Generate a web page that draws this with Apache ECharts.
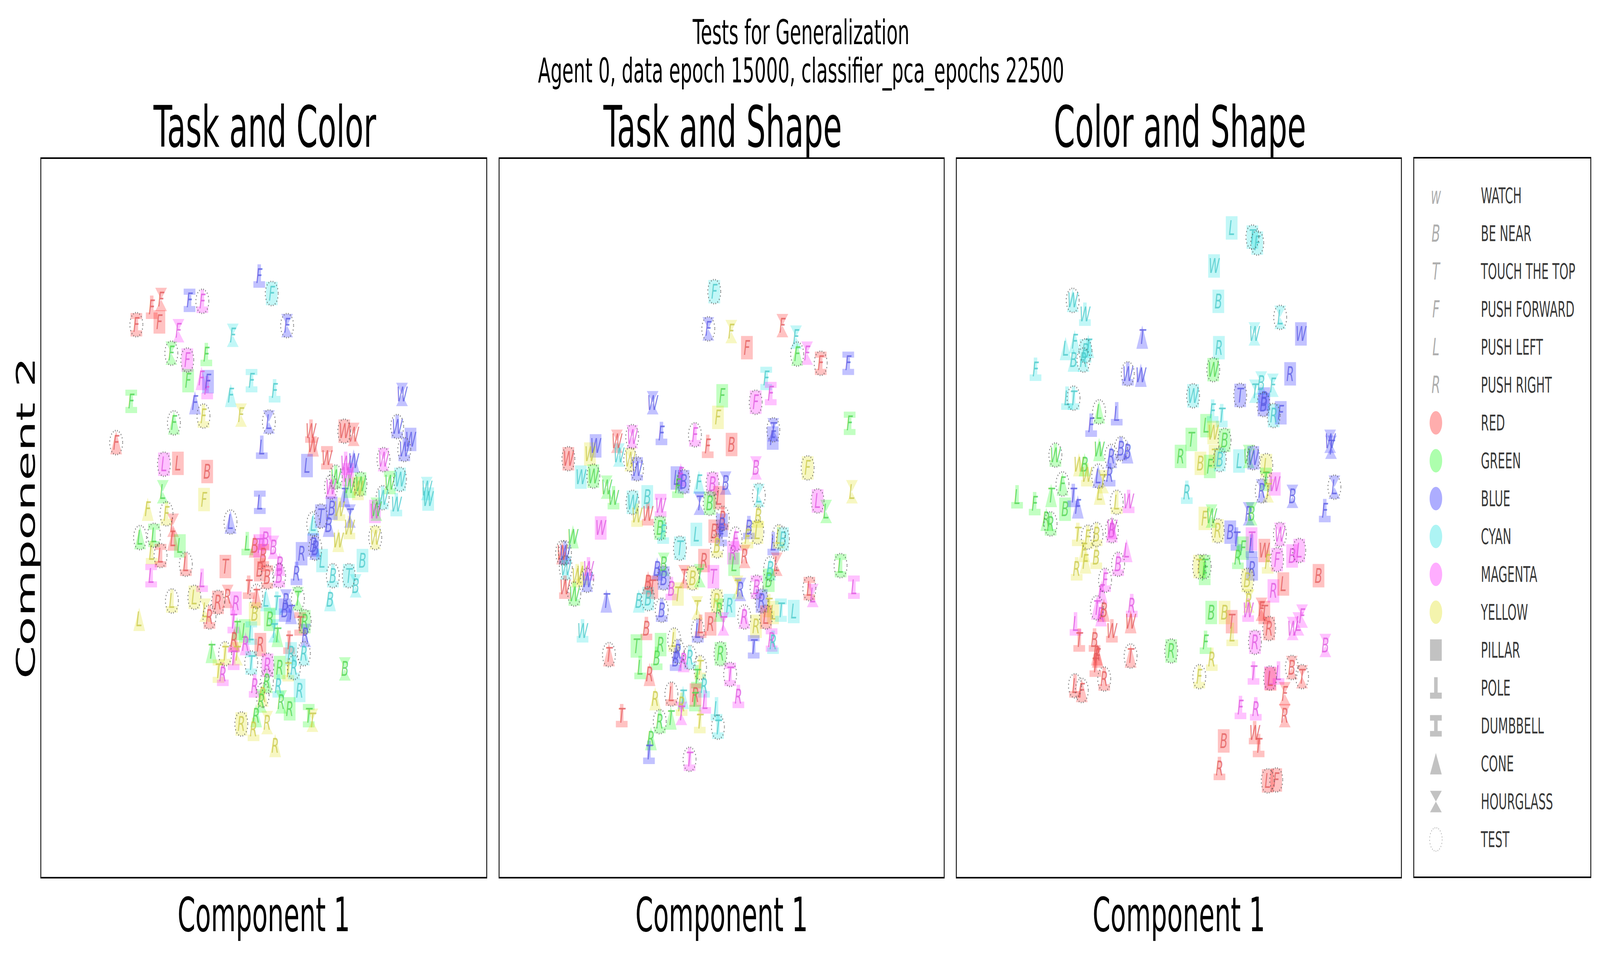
<!DOCTYPE html>
<html>
<head>
<meta charset="utf-8">
<script src="https://cdn.jsdelivr.net/npm/echarts@6/dist/echarts.min.js"></script>
<style>
html,body{margin:0;padding:0;background:#fff;overflow:hidden}
#wrap{transform-origin:0 0}
#main{width:7646px;height:2446px}
</style>
</head>
<body>
<div id="wrap"><div id="main"></div></div>
<script>
// point = [x, y, task, colour, shape, test]; x,y (arbitrary PCA units)
// colour: r g b c m y ; shape: P pillar, O pole, D dumbbell, C cone, H hourglass
var taskColorPts = [
[76.8,25.7,'F','b','O',0],[81.2,29.5,'F','c','P',1],[42.3,30.8,'F','r','H',0],[39.0,32.5,'F','r','O',0],
[41.7,35.7,'F','r','P',0],[33.6,36.3,'F','r','D',1],[52.3,31.0,'F','b','D',0],[56.8,31.2,'F','m','O',1],
[48.4,37.6,'F','m','H',0],[67.5,38.6,'F','c','H',0],[86.6,36.5,'F','b','H',1],[45.9,42.5,'F','g','H',1],
[51.5,44.0,'F','m','P',1],[58.2,42.8,'F','g','O',0],[51.8,48.5,'F','g','P',0],[56.5,48.0,'F','m','C',0],
[58.5,50.0,'F','m','O',0],[58.8,48.7,'F','b','P',0],[74.1,48.5,'F','c','D',0],[82.2,50.7,'F','c','O',0],
[66.8,51.7,'F','c','C',0],[31.8,53.0,'F','g','D',0],[54.2,53.3,'F','b','C',0],[57.2,56.2,'F','y','O',1],
[70.4,56.0,'F','y','H',0],[80.2,57.5,'L','b','H',1],[46.8,57.7,'F','g','C',1],[26.5,62.0,'F','r','C',1],
[77.7,63.0,'L','b','O',0],[43.3,66.7,'L','m','P',1],[48.2,66.5,'L','r','P',0],[58.5,68.3,'B','r','P',0],
[42.9,72.7,'L','g','H',0],[57.4,74.4,'F','y','P',0],[77.0,75.0,'L','b','D',0],[37.6,76.5,'F','y','C',0],
[44.2,77.5,'F','y','O',1],[46.5,80.0,'L','r','H',0],[66.7,79.3,'L','b','C',1],[34.9,82.7,'L','g','C',1],
[39.8,82.2,'L','g','D',1],[46.5,83.0,'L','r','C',0],[48.9,84.5,'L','g','P',0],[39.0,86.0,'L','y','O',0],
[42.1,86.6,'L','r','D',1],[51.0,88.5,'L','r','O',1],[38.8,91.0,'L','m','D',0],[56.7,92.0,'L','m','O',0],
[46.1,96.5,'L','y','O',1],[54.0,95.7,'L','y','P',1],[57.8,98.5,'L','y','H',0],[62.3,96.8,'R','r','P',1],
[65.7,95.5,'R','r','H',0],[59.3,100.0,'R','r','O',1],[68.6,97.0,'R','m','P',0],[34.6,100.5,'L','y','C',0],
[64.9,89.0,'T','r','P',0],[72.6,84.0,'L','g','O',0],[75.2,84.5,'B','r','C',0],[76.8,84.5,'T','m','P',0],
[79.0,83.0,'B','m','P',0],[81.8,84.8,'B','m','H',0],[78.2,86.6,'B','r','D',0],[77.0,89.7,'B','r','P',0],
[84.0,88.5,'B','m','C',0],[83.8,91.0,'B','m','O',1],[79.6,91.3,'B','r','D',1],[73.1,93.5,'T','r','O',0],
[75.8,95.5,'T','r','C',1],[79.2,96.2,'L','c','C',0],[83.0,97.0,'T','c','O',0],[75.2,99.3,'B','y','P',0],
[86.2,96.5,'R','b','H',0],[85.8,98.5,'B','b','P',0],[88.0,99.0,'T','b','C',0],[90.4,96.0,'T','g','H',1],
[91.2,101.5,'T','r','D',0],[92.8,101.0,'R','g','P',1],[93.0,104.0,'R','b','H',0],[69.0,102.5,'T','g','C',0],
[71.7,103.0,'L','g','P',0],[74.0,103.5,'L','c','D',0],[80.5,100.5,'B','g','P',0],[82.0,103.0,'T','c','H',0],
[83.2,104.0,'T','g','C',0],[67.7,101.0,'T','m','O',0],[68.0,105.0,'R','r','C',0],[72.0,105.8,'R','m','C',0],
[77.2,106.0,'R','r','P',0],[64.8,108.0,'T','y','O',1],[60.0,107.5,'T','g','C',0],[69.0,108.0,'T','y','H',0],
[67.8,109.0,'T','m','D',0],[62.5,111.8,'T','y','D',0],[64.0,112.5,'R','m','O',0],[74.0,110.0,'T','c','D',1],
[79.7,110.5,'R','m','P',1],[87.3,105.5,'T','r','O',0],[88.0,108.0,'R','c','P',0],[92.5,108.0,'R','c','C',1],
[84.0,111.0,'R','g','P',0],[87.0,111.5,'T','y','O',0],[89.0,111.0,'R','c','O',1],[75.2,115.0,'R','m','O',0],
[79.5,114.0,'R','g','C',1],[83.5,115.0,'R','c','O',0],[91.0,116.0,'R','c','P',0],[78.0,117.0,'R','y','C',1],
[77.5,118.3,'R','g','H',0],[84.5,118.5,'R','g','H',0],[87.5,120.0,'R','g','P',0],[94.2,121.5,'T','g','D',0],
[95.5,122.5,'T','y','H',0],[75.7,121.5,'R','g','C',0],[70.5,123.3,'R','y','P',1],[74.8,124.5,'R','y','O',0],
[79.6,123.0,'R','y','H',0],[82.4,128.0,'R','y','C',0],[106.9,111.3,'B','g','H',0],[95.0,59.5,'W','r','O',0],
[95.7,62.5,'W','r','C',0],[106.7,59.5,'W','r','P',1],[110.0,60.2,'W','r','H',0],[100.6,65.3,'W','r','D',0],
[93.6,67.0,'L','b','P',0],[107.2,66.5,'W','m','O',0],[110.0,66.0,'W','b','C',0],[108.0,69.0,'W','m','P',0],
[103.7,69.5,'W','g','O',1],[102.0,71.7,'W','m','C',1],[112.4,71.0,'W','g','P',1],[111.5,72.0,'W','y','P',0],
[106.8,73.5,'T','b','C',0],[108.5,71.5,'W','g','O',0],[105.0,76.5,'W','y','O',0],[102.3,76.3,'B','b','P',0],
[98.5,78.0,'T','b','P',1],[108.7,78.0,'T','b','H',0],[101.2,80.0,'B','b','C',0],[108.5,80.5,'W','y','O',0],
[95.8,79.7,'L','c','C',1],[104.6,83.3,'W','y','C',0],[95.8,84.3,'B','b','P',0],[96.5,85.0,'B','b','C',1],
[91.7,86.2,'R','b','P',0],[89.9,90.5,'R','b','O',0],[98.9,87.7,'L','c','P',0],[102.7,91.0,'B','c','O',1],
[108.3,91.0,'T','c','P',1],[110.7,93.2,'B','c','H',0],[113.1,87.7,'B','c','P',0],[101.7,96.2,'B','c','C',0],
[127.0,51.5,'W','b','H',0],[125.3,58.5,'W','b','O',1],[130.0,61.3,'W','b','P',0],[127.8,63.5,'W','b','O',1],
[120.5,65.7,'W','m','H',1],[122.7,70.7,'W','g','D',0],[126.3,70.0,'W','c','P',1],[120.2,74.0,'W','c','O',1],
[125.0,75.5,'W','c','O',0],[117.5,77.0,'W','m','P',0],[118.0,76.5,'W','g','H',0],[117.6,82.7,'W','y','H',1],
[135.7,72.0,'W','c','H',0],[136.2,74.3,'W','c','P',0]
];

var taskShapePts = [
[75.8,29.1,'F','c','P',1],[73.7,37.2,'F','b','H',1],[81.8,37.8,'F','y','H',0],[87.3,41.3,'F','r','P',0],
[99.8,36.5,'F','r','H',0],[104.6,39.0,'F','c','H',0],[105.0,42.7,'F','g','C',1],[108.5,42.5,'F','m','H',0],
[113.3,44.7,'F','r','D',1],[123.0,44.7,'F','b','D',0],[94.1,48.0,'F','c','D',0],[95.7,51.3,'F','m','D',0],
[90.4,53.2,'F','m','P',1],[78.6,51.8,'F','g','P',0],[77.1,56.5,'F','y','P',0],[96.6,59.2,'T','b','H',1],
[96.4,61.0,'F','b','P',0],[123.5,57.8,'F','g','D',0],[54.1,53.3,'W','b','H',0],[57.2,60.0,'F','b','O',0],
[69.0,60.3,'F','m','O',1],[73.5,62.8,'F','r','O',0],[81.9,62.4,'B','r','P',0],[41.5,61.7,'W','r','H',0],
[46.9,60.7,'W','m','H',1],[34.0,62.7,'W','b','P',0],[32.0,64.5,'W','y','P',0],[42.2,64.7,'W','c','H',0],
[46.2,65.7,'W','y','H',1],[48.6,67.7,'W','b','D',1],[24.4,65.5,'W','r','P',1],[28.8,69.5,'W','c','P',0],
[33.2,69.3,'W','g','P',1],[37.9,71.7,'W','g','H',0],[40.3,74.0,'W','g','O',0],[47.0,75.0,'W','c','P',1],
[52.2,73.8,'B','c','P',0],[56.9,75.7,'W','m','D',0],[48.6,77.8,'W','y','O',0],[52.4,77.5,'W','r','O',0],
[35.8,80.6,'W','m','P',0],[56.7,80.6,'B','g','P',1],[57.8,81.5,'F','c','O',0],[62.5,69.7,'L','b','P',0],
[64.0,69.0,'F','m','C',0],[65.0,70.5,'B','b','P',1],[63.0,71.5,'F','g','O',0],[70.4,70.6,'F','c','C',0],
[75.2,71.0,'B','m','P',1],[79.8,70.8,'B','b','H',0],[77.5,74.0,'L','r','P',0],[70.6,75.2,'T','b','H',0],
[74.2,75.2,'B','g','P',1],[78.8,78.5,'R','r','O',1],[69.5,82.0,'L','c','P',0],[63.7,85.0,'T','c','P',1],
[75.8,81.3,'B','r','P',0],[78.5,80.0,'B','b','P',0],[78.2,82.0,'F','b','O',0],[76.8,84.5,'B','y','O',1],
[83.3,83.0,'F','m','C',1],[82.4,86.0,'R','m','P',0],[86.5,86.8,'R','r','H',0],[88.0,80.5,'B','b','O',0],
[91.0,81.5,'L','y','P',1],[87.5,82.5,'F','y','O',0],[96.6,84.0,'L','b','O',0],[98.5,82.5,'L','y','O',1],
[100.0,83.0,'B','c','P',1],[82.8,88.5,'L','g','P',0],[72.2,87.7,'R','r','P',0],[65.2,91.2,'T','r','H',0],
[68.2,91.5,'B','y','P',1],[70.7,91.0,'T','g','H',0],[75.5,91.2,'T','m','P',0],[58.0,88.5,'B','g','H',0],
[55.7,89.5,'B','b','C',0],[58.0,91.5,'B','b','P',1],[60.7,93.8,'B','m','O',0],[52.5,92.5,'B','r','C',0],
[54.0,93.5,'T','r','P',0],[63.0,95.0,'T','y','P',0],[49.2,96.5,'B','c','C',0],[52.5,96.0,'B','c','P',1],
[37.8,96.5,'T','b','C',0],[95.5,89.5,'B','c','C',1],[97.8,88.5,'L','r','H',0],[95.0,92.0,'B','g','P',0],
[84.0,93.5,'T','y','H',0],[85.0,94.0,'R','b','H',0],[90.7,93.5,'B','m','D',1],[92.5,96.5,'R','b','P',1],
[76.7,96.5,'R','y','P',1],[77.5,98.5,'R','g','H',0],[81.2,97.5,'R','c','P',0],[86.4,100.0,'R','m','C',1],
[90.5,102.0,'R','y','P',0],[95.0,97.5,'T','y','O',0],[96.5,99.0,'L','y','P',0],[94.0,100.0,'L','r','P',1],
[99.3,98.5,'T','c','D',0],[103.8,98.8,'L','c','P',0],[96.0,105.0,'R','m','D',0],[96.5,105.5,'R','c','O',0],
[89.7,106.5,'T','b','D',0],[109.3,93.8,'L','r','D',1],[110.5,95.3,'L','m','H',0],[120.3,88.8,'L','g','D',1],
[125.0,93.5,'L','m','D',0],[112.2,74.7,'L','m','P',1],[115.2,77.0,'L','g','H',0],[124.3,72.7,'L','y','H',0],
[108.7,67.5,'F','y','P',1],[90.5,67.5,'B','m','H',0],[91.5,73.5,'L','c','H',1],[91.3,78.0,'B','y','O',0],
[57.3,98.5,'B','b','O',1],[69.8,98.0,'T','y','H',0],[70.0,103.0,'L','b','O',1],[74.5,101.5,'R','r','P',0],
[79.0,101.5,'T','m','H',0],[71.0,102.0,'L','r','O',0],[51.9,102.5,'B','r','O',0],[56.9,106.0,'R','g','P',0],
[48.4,106.3,'T','g','P',0],[55.5,109.0,'B','g','O',0],[49.7,111.0,'L','g','O',0],[61.7,105.0,'L','y','O',1],
[63.0,107.5,'R','b','O',1],[62.2,109.2,'B','b','O',0],[65.0,109.5,'R','m','C',0],[67.2,108.8,'R','c','O',1],
[53.0,112.5,'R','r','C',0],[78.0,108.0,'R','g','P',1],[81.4,112.5,'T','m','D',1],[70.8,111.0,'T','y','O',1],
[72.2,115.0,'R','c','O',0],[69.7,113.0,'T','g','O',0],[38.7,108.2,'T','r','C',1],[29.4,103.0,'W','c','O',0],
[55.0,117.8,'R','y','C',0],[60.7,116.8,'L','r','O',1],[64.8,117.5,'T','c','C',0],[64.3,119.0,'R','y','O',0],
[64.2,121.0,'T','m','H',0],[69.2,117.0,'R','r','P',0],[69.0,118.0,'T','g','O',0],[72.6,118.5,'L','m','O',0],
[76.6,120.0,'L','c','O',0],[84.3,117.3,'R','m','O',0],[43.2,121.5,'T','r','O',0],[56.6,122.8,'R','g','O',1],
[60.5,122.0,'T','g','C',0],[70.7,122.8,'T','y','O',0],[77.1,124.0,'T','c','O',1],[53.5,126.5,'R','g','C',0],
[52.8,129.5,'T','b','O',0],[67.1,131.0,'T','m','O',1],[26.0,82.5,'W','g','C',0],[22.2,86.0,'W','r','C',1],
[23.2,86.0,'W','b','O',1],[23.5,89.3,'W','c','H',1],[27.5,91.0,'W','y','O',0],[29.2,90.5,'W','y','O',0],
[31.5,89.5,'W','m','O',0],[31.0,92.0,'W','b','C',1],[23.2,93.5,'W','r','O',0],[26.5,95.0,'W','g','O',1]
];

var colorShapePts = [
[97.0,15.2,'L','c','P',0],[104.3,17.2,'T','c','P',1],[106.0,18.5,'F','c','P',1],[90.8,23.5,'W','c','P',0],
[92.3,31.2,'B','c','P',0],[114.1,34.7,'L','c','H',1],[105.0,38.3,'W','c','H',0],[121.4,38.3,'W','b','P',0],
[92.5,41.3,'R','c','P',0],[90.5,46.1,'W','g','P',1],[117.6,47.0,'R','b','P',0],[83.4,51.8,'W','c','P',1],
[100.0,51.7,'T','b','P',1],[105.2,50.8,'T','c','H',0],[107.4,49.0,'B','c','H',0],[111.5,49.5,'F','c','H',0],
[108.5,52.5,'B','b','P',0],[108.2,53.7,'B','b','P',1],[111.8,56.1,'R','c','P',1],[114.3,55.5,'F','b','P',0],
[90.3,55.1,'F','c','O',0],[93.5,56.1,'T','c','O',0],[88.0,58.3,'L','g','P',0],[90.5,59.8,'W','y','P',0],
[94.5,61.5,'B','g','P',1],[82.8,61.3,'T','g','P',0],[79.0,65.0,'R','g','P',0],[86.0,66.5,'B','y','P',0],
[89.3,67.2,'F','g','P',0],[91.0,65.0,'T','y','P',0],[92.8,65.7,'B','c','P',1],[99.6,66.0,'L','c','P',0],
[103.0,65.0,'W','g','H',0],[104.6,65.3,'W','b','P',1],[109.2,67.0,'L','y','P',1],[109.0,70.0,'T','g','D',0],
[112.2,71.0,'W','m','P',0],[107.6,72.5,'R','b','H',1],[109.8,72.5,'T','y','H',0],[131.7,61.7,'W','b','H',0],
[132.0,63.0,'T','b','H',0],[133.2,71.7,'L','b','H',1],[118.4,73.7,'B','b','H',0],[129.8,76.8,'F','b','O',0],
[81.2,72.8,'R','c','O',0],[87.4,78.5,'F','y','P',0],[89.9,78.0,'W','g','H',0],[92.1,81.2,'R','y','P',1],
[96.5,81.5,'B','b','P',0],[98.7,83.0,'T','b','O',0],[103.0,77.5,'R','b','H',0],[104.0,77.5,'B','g','H',0],
[99.2,87.0,'R','g','O',0],[101.0,85.0,'F','g','P',0],[104.0,83.0,'T','m','P',0],[104.0,84.5,'L','b','O',0],
[104.2,89.5,'R','b','P',0],[108.5,85.5,'W','r','P',0],[109.7,88.0,'F','y','O',0],[113.0,87.5,'F','m','P',1],
[114.0,82.0,'W','m','H',1],[118.3,86.7,'B','m','P',0],[120.8,85.5,'L','m','P',1],[127.6,91.0,'B','r','P',0],
[85.5,89.0,'T','y','P',1],[87.5,89.0,'T','g','P',1],[87.5,90.5,'F','g','O',0],[102.5,92.0,'B','y','P',1],
[103.0,96.5,'R','y','H',0],[102.8,98.5,'W','m','O',0],[111.7,94.3,'R','m','P',0],[115.2,92.8,'L','r','P',0],
[107.5,98.3,'F','r','H',0],[108.5,99.0,'T','r','P',0],[110.2,102.5,'R','r','P',1],[89.8,99.0,'B','g','P',0],
[94.5,99.0,'B','y','P',0],[97.0,101.0,'T','r','P',0],[97.2,103.8,'L','y','O',0],[118.5,102.5,'W','m','H',0],
[120.5,101.5,'L','m','H',0],[121.8,99.8,'F','m','H',0],[130.0,106.2,'B','m','H',0],[87.8,105.5,'F','g','O',0],
[90.0,109.2,'R','y','O',0],[75.7,107.4,'R','g','P',1],[105.2,105.5,'R','m','P',1],[85.6,113.0,'F','y','O',1],
[104.7,112.2,'T','m','O',0],[110.5,113.3,'L','m','P',1],[110.7,113.5,'L','r','P',0],[113.5,112.2,'L','m','O',0],
[118.2,111.0,'B','r','H',1],[121.8,113.0,'T','r','H',1],[115.7,116.7,'F','r','H',0],[115.7,121.5,'R','r','H',0],
[100.1,119.7,'F','m','O',0],[105.5,120.0,'R','m','O',0],[105.1,125.2,'W','r','O',0],[106.5,128.0,'T','r','O',0],
[94.2,127.0,'B','r','P',0],[92.7,133.0,'R','r','O',0],[109.7,135.7,'L','r','P',1],[112.7,135.5,'F','r','P',1],
[41.0,31.0,'W','c','C',1],[45.3,34.0,'W','c','O',0],[38.5,41.5,'L','c','C',0],[41.7,40.0,'F','c','C',0],
[41.3,44.0,'B','c','C',0],[45.5,42.0,'B','c','P',1],[44.8,44.0,'R','c','C',1],[46.5,41.0,'T','c','C',0],
[27.9,46.0,'F','c','O',0],[65.5,39.0,'T','b','C',0],[60.4,47.0,'W','b','O',1],[65.0,47.3,'W','b','C',0],
[39.0,52.3,'L','c','O',0],[41.3,52.3,'T','c','O',1],[50.3,55.3,'L','g','C',1],[56.5,55.7,'L','b','O',0],
[47.5,58.2,'F','b','O',0],[34.9,64.7,'W','g','O',1],[50.3,63.5,'W','g','C',0],[54.6,65.0,'R','b','C',1],
[58.0,63.3,'B','b','O',1],[60.3,64.0,'B','b','C',0],[43.2,66.8,'W','y','C',0],[45.2,66.8,'B','g','C',0],
[46.0,69.0,'W','y','O',0],[50.0,69.3,'L','b','C',1],[54.0,69.0,'R','b','O',0],[51.7,70.5,'T','y','H',0],
[50.5,73.0,'L','y','C',0],[21.4,73.8,'L','g','O',0],[27.6,75.3,'F','g','O',0],[33.4,73.5,'T','g','C',0],
[37.4,71.0,'F','g','C',1],[38.3,76.5,'B','g','P',0],[41.2,73.5,'T','b','O',0],[42.8,76.0,'F','b','C',0],
[56.5,75.0,'L','y','O',1],[60.7,74.8,'W','m','O',0],[31.7,78.7,'R','g','C',0],[33.2,79.7,'R','g','O',1],
[42.8,82.0,'T','y','O',0],[46.3,82.6,'F','y','O',1],[49.4,82.0,'B','y','O',1],[54.8,81.2,'B','m','C',1],
[54.8,80.5,'W','m','C',0],[45.0,85.5,'F','y','C',0],[45.5,88.0,'F','y','C',0],[49.3,87.0,'B','y','O',0],
[42.4,89.5,'R','y','O',0],[60.0,85.5,'L','m','C',0],[57.0,88.5,'B','m','O',1],[52.4,92.0,'F','m','O',1],
[51.2,94.5,'F','m','C',0],[49.5,98.0,'T','m','C',1],[51.0,99.5,'R','m','C',0],[52.0,98.5,'B','r','C',0],
[61.8,97.5,'R','m','O',0],[61.4,101.0,'W','r','C',0],[54.8,103.0,'W','r','O',0],[42.0,101.5,'L','m','O',0],
[43.3,105.0,'T','r','O',0],[48.7,105.0,'B','r','O',0],[49.5,108.0,'R','r','C',0],[49.8,108.5,'F','r','C',0],
[49.0,110.5,'T','r','O',0],[52.1,113.5,'R','r','O',1],[61.4,108.5,'T','r','C',1],[41.8,115.0,'L','r','O',1],
[44.2,116.0,'F','r','C',1]
];

var panelTitles = ['Task and Color', 'Task and Shape', 'Color and Shape'];
var legendLetters = ['w', 'B', 'T', 'F', 'L', 'R'];
var taskNames = ['WATCH', 'BE NEAR', 'TOUCH THE TOP', 'PUSH FORWARD', 'PUSH LEFT', 'PUSH RIGHT'];
var colorKeys = ['r', 'g', 'b', 'c', 'm', 'y'];
var colorNames = ['RED', 'GREEN', 'BLUE', 'CYAN', 'MAGENTA', 'YELLOW'];
var shapeKeys = ['P', 'O', 'D', 'C', 'H'];
var shapeNames = ['PILLAR', 'POLE', 'DUMBBELL', 'CONE', 'HOURGLASS'];

var rgb = {r: '255,0,0', g: '0,255,0', b: '0,0,255', c: '0,220,220', m: '255,0,255', y: '220,220,0'};
var ink = {r: '#e35d5d', g: '#52d452', b: '#5d5de3', c: '#4ccaca', m: '#e05ae0', y: '#caca4c'};
var shapeSym = {
    P: 'rect',
    O: 'path://M0,10H10V7.2H6.5V0H3.5V7.2H0Z',
    D: 'path://M0,0H10V2.6H6.5V7.4H10V10H0V7.4H3.5V2.6H0Z',
    C: 'path://M5,0L10,10H0Z',
    H: 'path://M0,0H10L5,5L10,10H0L5,5Z'
};

var FONT = 'DejaVu Sans';
var W = 7646, H = 2446;
var panels = [taskColorPts, taskShapePts, colorShapePts];
var gridLeft = [195, 2385, 4570];
var gridWidth = [2131, 2127, 2127];

// the window may be narrower than the figure: squeeze the whole figure into it
document.getElementById('wrap').style.transform =
    'scale(' + (window.innerWidth / W) + ',' + (window.innerHeight / H) + ')';

var grids = [], xAxes = [], yAxes = [], series = [], titles = [];

titles.push({
    text: 'Tests for Generalization\nAgent 0, data epoch 15000, classifier_pca_epochs 22500',
    left: 3823, top: 28, textAlign: 'center',
    textStyle: {fontFamily: FONT, fontSize: 88, lineHeight: 98, fontWeight: 'normal', color: '#000'}
});

panels.forEach(function (pts, i) {
    grids.push({left: gridLeft[i], top: 405, width: gridWidth[i], height: 1843,
        show: true, borderColor: '#000', borderWidth: 4, backgroundColor: '#fff'});
    titles.push({text: panelTitles[i], left: gridLeft[i] + gridWidth[i] / 2, top: 248, textAlign: 'center',
        textStyle: {fontFamily: FONT, fontSize: 146, fontWeight: 'normal', color: '#000'}});
    xAxes.push({gridIndex: i, type: 'value', min: 0, max: 156.8,
        axisLine: {show: false}, axisTick: {show: false}, axisLabel: {show: false}, splitLine: {show: false},
        name: 'Component 1', nameLocation: 'middle', nameGap: 34,
        nameTextStyle: {fontFamily: FONT, fontSize: 122, color: '#000'}});
    yAxes.push({gridIndex: i, type: 'value', min: 0, max: 156.8, inverse: true,
        axisLine: {show: false}, axisTick: {show: false}, axisLabel: {show: false}, splitLine: {show: false},
        name: i === 0 ? 'Component 2' : '', nameLocation: 'middle', nameGap: 10, nameRotate: 90,
        nameTextStyle: {fontFamily: FONT, fontSize: 122, color: '#000'}});

    series.push({
        type: 'scatter', xAxisIndex: i, yAxisIndex: i, silent: true,
        symbolSize: [56, 60],
        data: pts.map(function (p) {
            return {
                value: [p[0], p[1]], task: p[2],
                symbol: shapeSym[p[4]],
                itemStyle: {color: 'rgba(' + rgb[p[3]] + ',0.3)'},
                label: {color: ink[p[3]]}
            };
        }),
        label: {show: true, position: 'inside', fontFamily: FONT, fontStyle: 'italic', fontSize: 52,
            formatter: function (ps) { return ps.data.task; }}
    });
    series.push({
        type: 'scatter', xAxisIndex: i, yAxisIndex: i, silent: true, symbol: 'circle', symbolSize: 62,
        data: pts.filter(function (p) { return p[5]; }).map(function (p) { return [p[0], p[1]]; }),
        itemStyle: {color: 'rgba(0,0,0,0)', borderColor: '#555', borderWidth: 4, borderType: [3, 7]},
        z: 3
    });
});

// legend box drawn as a fourth grid, one row per entry
grids.push({left: 6756, top: 404, width: 846, height: 1843, show: true, borderColor: '#000', borderWidth: 4});
xAxes.push({gridIndex: 3, type: 'value', min: 0, max: 1, show: false});
yAxes.push({gridIndex: 3, type: 'value', min: -1, max: 18, inverse: true, show: false});

var legendText = taskNames.concat(colorNames, shapeNames, ['TEST']);
var letterRows = legendLetters.map(function (l, k) { return {value: [0.125, k], task: l}; });
var circleRows = colorKeys.map(function (c, k) {
    return {value: [0.125, 6 + k], itemStyle: {color: 'rgba(' + rgb[c] + ',0.4)'}};
});
var shapeRows = shapeKeys.map(function (s, k) { return {value: [0.125, 12 + k], symbol: shapeSym[s]}; });

series.push({type: 'scatter', xAxisIndex: 3, yAxisIndex: 3, silent: true, symbolSize: 1,
    itemStyle: {color: 'rgba(0,0,0,0)'}, data: letterRows,
    label: {show: true, position: 'inside', fontFamily: FONT, fontStyle: 'italic', fontSize: 60, color: '#999',
        formatter: function (ps) { return ps.data.task; }}});
series.push({type: 'scatter', xAxisIndex: 3, yAxisIndex: 3, silent: true, symbol: 'circle', symbolSize: 60,
    data: circleRows});
series.push({type: 'scatter', xAxisIndex: 3, yAxisIndex: 3, silent: true, symbolSize: [56, 55],
    itemStyle: {color: 'rgba(128,128,128,0.6)'}, data: shapeRows});
series.push({type: 'scatter', xAxisIndex: 3, yAxisIndex: 3, silent: true, symbol: 'circle', symbolSize: 60,
    itemStyle: {color: 'rgba(0,0,0,0)', borderColor: '#999', borderWidth: 3, borderType: [3, 6]},
    data: [[0.125, 17]]});
series.push({type: 'scatter', xAxisIndex: 3, yAxisIndex: 3, silent: true, symbolSize: 0,
    data: legendText.map(function (t, k) { return {value: [0.379, k], name: t}; }),
    label: {show: true, position: 'right', distance: 0, fontFamily: FONT, fontSize: 55, color: '#000',
        formatter: '{b}'}});

var myChart = echarts.init(document.getElementById('main'), null, {renderer: 'svg'});
var option = {
    backgroundColor: '#fff',
    animation: false,
    title: titles,
    grid: grids,
    xAxis: xAxes,
    yAxis: yAxes,
    series: series
};
myChart.setOption(option);
</script>
</body>
</html>
